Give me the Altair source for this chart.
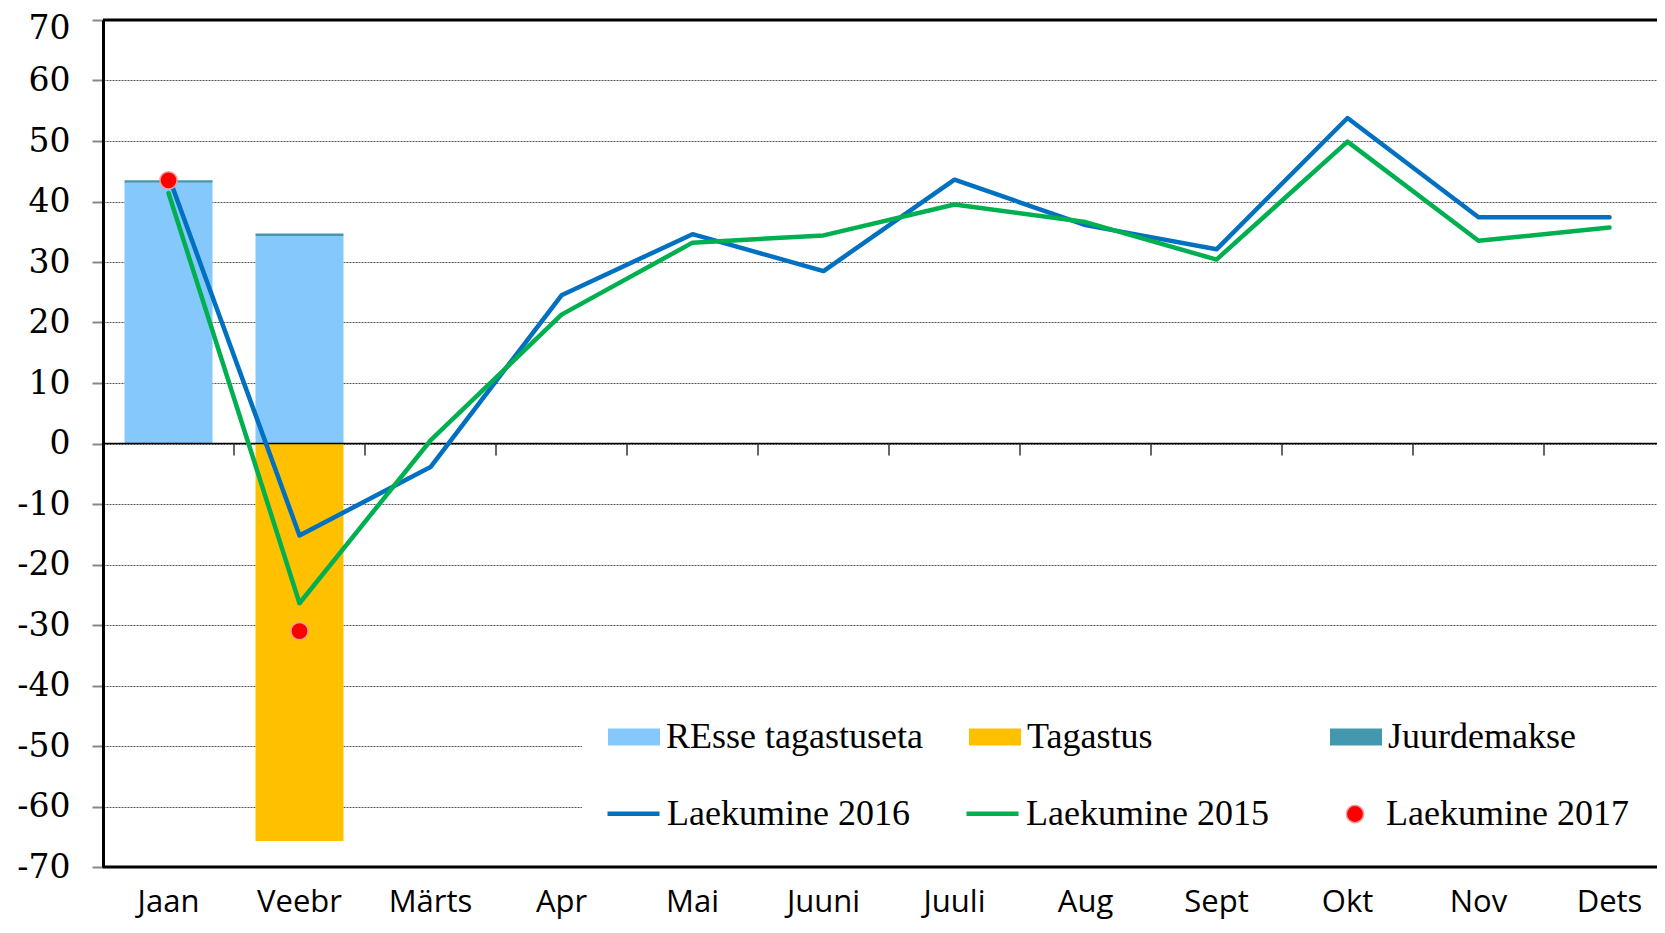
import altair as alt
import pandas as pd

months = ["Jaan", "Veebr", "Märts", "Apr", "Mai", "Juuni", "Juuli", "Aug", "Sept", "Okt", "Nov", "Dets"]
laek_2016 = [44.2, -15.2, -3.9, 24.5, 34.6, 28.5, 43.6, 36.1, 32.1, 53.8, 37.4, 37.4]
laek_2015 = [41.4, -26.4, 0.5, 21.3, 33.2, 34.4, 39.5, 36.6, 30.4, 49.9, 33.5, 35.7]
laek_2017_months = ["Jaan", "Veebr"]
laek_2017 = [43.5, -31.0]
bar_months = ["Jaan", "Veebr"]
resse = [43.1, 34.3]
tagastus = [0.0, -65.7]
juurdemakse = [0.4, 0.4]
bar_series = ["REsse tagastuseta", "Tagastus", "Juurdemakse"]
bar_colors = ["#85C8FB", "#FFC000", "#4398B0"]
line_series = ["Laekumine 2016", "Laekumine 2015"]
line_colors = ["#0070C0", "#00B050"]
point_series = ["Laekumine 2017"]
y_ticks = list(range(-70, 71, 10))

W, H = 1554, 847
XR = 1572  # full band range (runs past the visible right edge, as in the reference)

# data tables
bar_rows = []
for i, m in enumerate(bar_months):
    for k, (s, vals) in enumerate(zip(bar_series, [resse, tagastus, juurdemakse])):
        if vals[i] != 0:
            bar_rows.append({"month": m, "series": s, "value": vals[i], "ord": k})
bars_df = pd.DataFrame(bar_rows)
l16 = pd.DataFrame({"month": months, "value": laek_2016, "series": line_series[0]})
l15 = pd.DataFrame({"month": months, "value": laek_2015, "series": line_series[1]})
p17 = pd.DataFrame({"month": laek_2017_months, "value": laek_2017, "series": point_series[0]})
bounds_df = pd.DataFrame({"month": months[1:]})
one = pd.DataFrame({"a": [0]})

xscale = alt.Scale(domain=months, range=[0, XR], paddingInner=0, paddingOuter=0)
xaxis = alt.Axis(title=None, domain=False, ticks=False, grid=False, labelAngle=0,
                 labelFont="Open Sans", labelFontSize=31, labelColor="black", labelPadding=20)
yscale = alt.Scale(domain=[-70, 70], nice=False, zero=False)
yaxis = alt.Axis(title=None, values=y_ticks,
                 labelExpr="datum.value < 0 ? '-' + abs(datum.value) : '' + datum.value",
                 labelOffset={"condition": {"test": "datum.value == 70", "value": 8}, "value": 0})


def X(**kw):
    return alt.X("month:N", scale=xscale, sort=months, axis=xaxis, **kw)


def Yq():
    return alt.Y("value:Q", scale=yscale, axis=yaxis)


def Yd(v):
    return alt.Y(datum=v, scale=yscale, axis=yaxis)


legend_common = dict(orient="none", direction="horizontal", title=None,
                     labelFont="Liberation Serif", labelFontSize=36, labelColor="black",
                     labelLimit=500, padding=0, gridAlign="all")

box = alt.Chart(one).mark_rect(fill="white").encode(
    x=alt.value(479), x2=alt.value(1554), y=alt.value(676), y2=alt.value(826))

bars = alt.Chart(bars_df).mark_bar(size=88).encode(
    x=X(),
    y=alt.Y("value:Q", scale=yscale, axis=yaxis, stack="zero"),
    order=alt.Order("ord:Q"),
    fill=alt.Fill("series:N", scale=alt.Scale(domain=bar_series, range=bar_colors),
                  legend=alt.Legend(legendX=505, legendY=691, columns=3, columnPadding=46,
                                    symbolType="M-1,-0.327H1V0.327H-1Z", symbolSize=2704,
                                    symbolStrokeWidth=0, labelOffset=6, **legend_common)),
)

zero_line = alt.Chart(one).mark_rule(color="black", strokeWidth=1.5).encode(y=Yd(0))

ticks = alt.Chart(bounds_df).mark_rule(color="#333333", strokeWidth=1.5).encode(
    x=X(bandPosition=0), y=Yd(0), y2=alt.Y2(datum=-2))

stroke_enc = alt.Stroke("series:N", scale=alt.Scale(domain=line_series, range=line_colors),
                        legend=alt.Legend(legendX=502, legendY=765, columns=2, columnPadding=47,
                                          symbolType="stroke", symbolSize=2704, symbolStrokeWidth=4.5,
                                          labelOffset=5, **legend_common))

line16 = alt.Chart(l16).mark_line(strokeWidth=4.5, strokeCap="round", strokeJoin="round").encode(
    x=X(), y=Yq(), stroke=stroke_enc)
line15 = alt.Chart(l15).mark_line(strokeWidth=4.5, strokeCap="round", strokeJoin="round").encode(
    x=X(), y=Yq(), stroke=stroke_enc)

points = alt.Chart(p17).mark_point(filled=True, size=300, opacity=1, stroke="#F2A0A0", strokeWidth=1.5).encode(
    x=X(), y=Yq(),
    fill=alt.Fill("series:N", scale=alt.Scale(domain=point_series, range=["#FF0000"]),
                  legend=alt.Legend(legendX=1234, legendY=776, symbolType="circle", symbolSize=300,
                                    labelOffset=13, **legend_common)),
)

top_rule = alt.Chart(one).mark_rule(color="black", strokeWidth=3).encode(y=Yd(70))
bottom_rule = alt.Chart(one).mark_rule(color="black", strokeWidth=3).encode(y=Yd(-70))

chart = alt.layer(box, bars, zero_line, ticks, line16, line15, points, top_rule, bottom_rule).resolve_scale(
    fill="independent"
).properties(
    width=W, height=H,
    autosize=alt.AutoSizeParams(type="none"),
    padding={"left": 95, "top": 12, "right": 0, "bottom": 54},
    background="white",
).configure_view(stroke=None).configure_axisY(
    domainColor="black", domainWidth=3, tickColor="#888888", tickSize=11, tickWidth=2,
    labelFont="DejaVu Serif", labelFontSize=33, labelColor="black", labelPadding=22,
    gridColor="#555555", gridDash=[2, 1], gridWidth=1,
)

chart.save("out.html", embed_options={"renderer": "svg", "actions": False})
